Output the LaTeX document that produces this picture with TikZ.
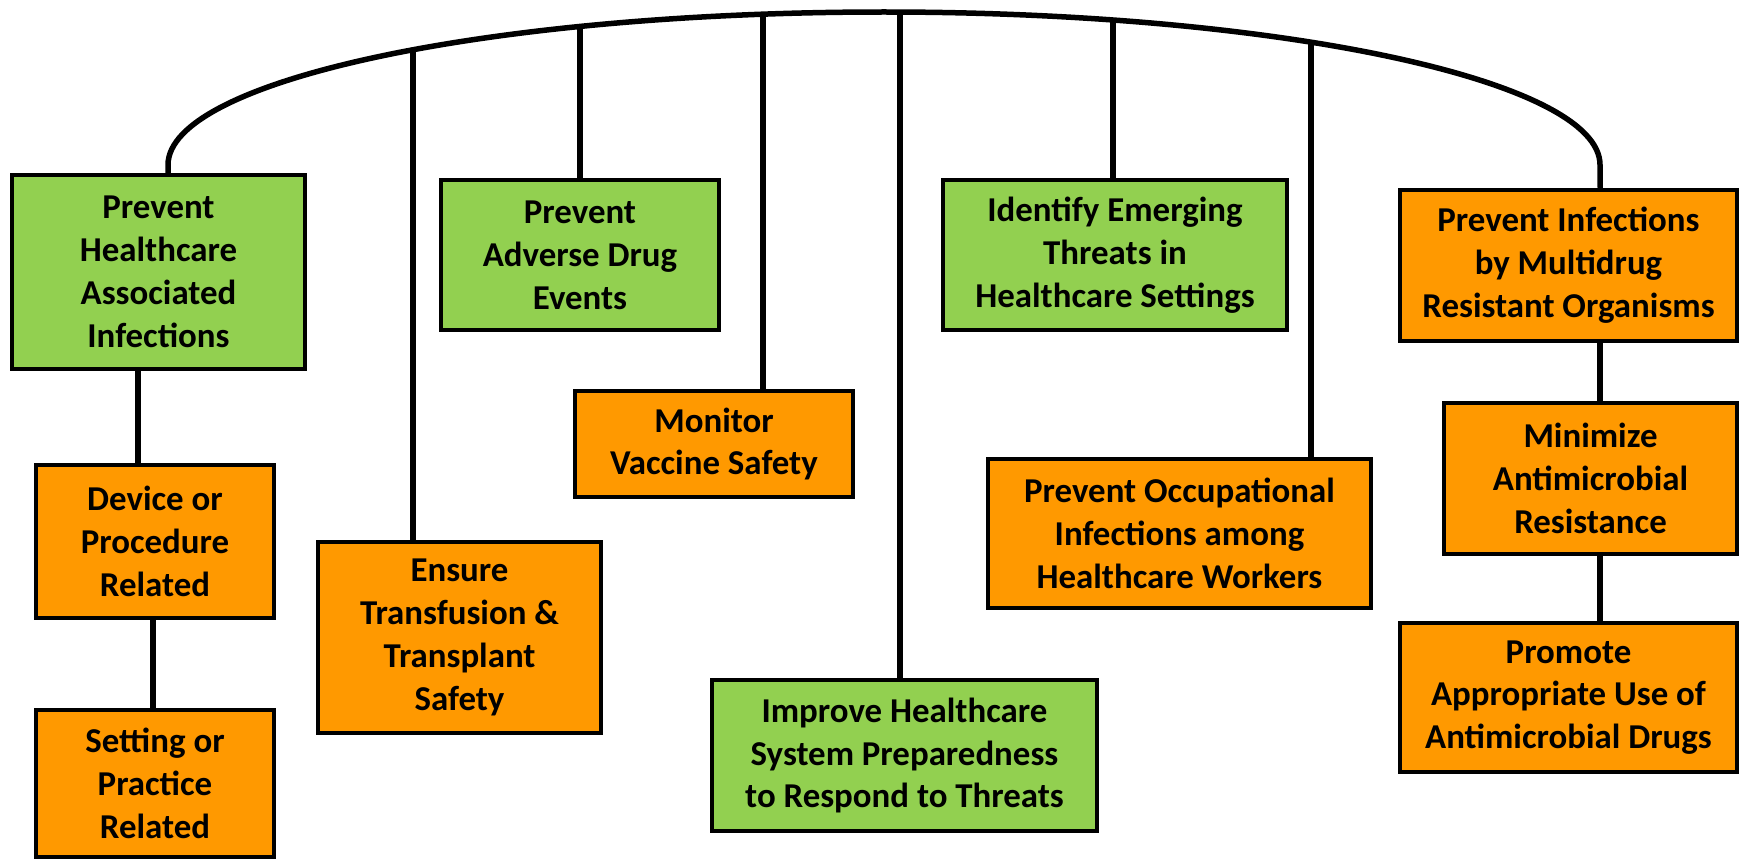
\documentclass[tikz,border=0pt]{standalone}
\usepackage{fontspec}
\setmainfont{Carlito}
\definecolor{boxgreen}{HTML}{92D050}
\definecolor{boxorange}{HTML}{FF9900}
\tikzset{
  box/.style={draw=black, line width=4.5bp, align=center, inner sep=0pt,
    font=\fontsize{35}{43}\selectfont\bfseries, text=black},
  gbox/.style={box, fill=boxgreen},
  obox/.style={box, fill=boxorange},
  link/.style={line width=5.5bp, draw=black}
}
\begin{document}
\begin{tikzpicture}[x=1bp,y=-1bp]
\useasboundingbox (0,0) rectangle (1743,859);
% boxes
\node[gbox, minimum width=293bp, minimum height=194bp] (b1) at (158.5,272) {Prevent\\Healthcare\\Associated\\Infections};
\node[obox, minimum width=238bp, minimum height=153bp] (dev) at (155,541.5) {Device or\\Procedure\\Related};
\node[obox, minimum width=238bp, minimum height=147bp] (set) at (155,783.5) {Setting or\\Practice\\Related};
\node[obox, minimum width=283bp, minimum height=191bp] (ens) at (459.5,637.5) {Ensure\\Transfusion \&\\Transplant\\Safety};
\node[gbox, minimum width=278bp, minimum height=150bp] (adv) at (580,255) {Prevent\\Adverse Drug\\Events};
\node[obox, minimum width=278bp, minimum height=106bp] (mon) at (714,444) {Monitor\\Vaccine Safety};
\node[gbox, minimum width=385bp, minimum height=151bp] (imp) at (904.5,755.5) {Improve Healthcare\\System Preparedness\\to Respond to Threats};
\node[gbox, minimum width=344bp, minimum height=150bp] (ide) at (1115,255) {Identify Emerging\\Threats in\\Healthcare Settings};
\node[obox, minimum width=383bp, minimum height=149bp] (occ) at (1179.5,533.5) {Prevent Occupational\\Infections among\\Healthcare Workers};
\node[obox, minimum width=337bp, minimum height=151bp] (mdr) at (1568.5,265.5) {Prevent Infections\\by Multidrug\\Resistant Organisms};
\node[obox, minimum width=293bp, minimum height=151bp] (min) at (1590.5,478.5) {Minimize\\Antimicrobial\\Resistance};
\node[obox, minimum width=337bp, minimum height=149bp] (pro) at (1568.5,697.5) {Promote\\Appropriate Use of\\Antimicrobial Drugs};
% arc
\coordinate (aL) at (168,165);
\coordinate (aR) at (1600,165);
\draw[link] (aL |- b1.north) -- (aL) arc[start angle=180, end angle=0, x radius=716bp, y radius=153bp] -- (aR |- mdr.north);
% drops from arc
\coordinate (t1) at (413,49.8);
\coordinate (t2) at (580,26.5);
\coordinate (t3) at (763,14.2);
\coordinate (t4) at (900,12);
\coordinate (t5) at (1113,20);
\coordinate (t6) at (1311,42.2);
\draw[link] (t1) -- (t1 |- ens.north);
\draw[link] (t2) -- (t2 |- adv.north);
\draw[link] (t3) -- (t3 |- mon.north);
\draw[link] (t4) -- (t4 |- imp.north);
\draw[link] (t5) -- (t5 |- ide.north);
\draw[link] (t6) -- (t6 |- occ.north);
% lower links
\coordinate (l1) at (138,0);
\coordinate (l2) at (153,0);
\coordinate (r1) at (1600,0);
\draw[link] (l1 |- b1.south) -- (l1 |- dev.north);
\draw[link] (l2 |- dev.south) -- (l2 |- set.north);
\draw[link] (r1 |- mdr.south) -- (r1 |- min.north);
\draw[link] (r1 |- min.south) -- (r1 |- pro.north);
\end{tikzpicture}
\end{document}
